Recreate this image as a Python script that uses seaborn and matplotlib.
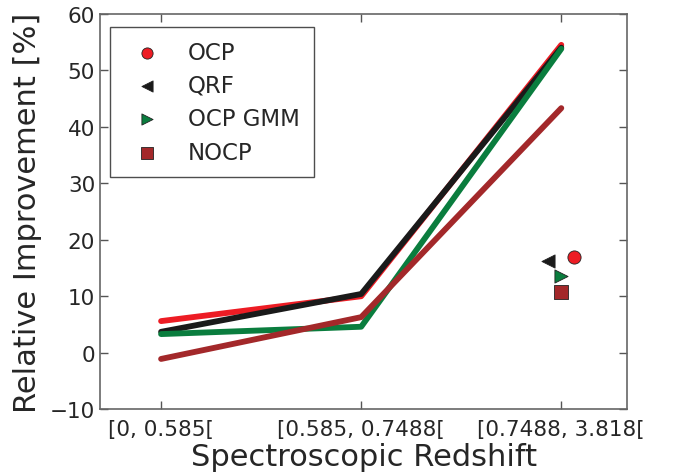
import numpy as np
import pandas as pd
import matplotlib
matplotlib.use('Agg')
import matplotlib.pyplot as plt
import seaborn as sns

### data
bins = ['[0, 0.585[', '[0.585, 0.7488[', '[0.7488, 3.818[']
methods = ['OCP', 'QRF', 'OCP GMM', 'NOCP']
ocp = [5.6, 10.0, 54.5]
qrf = [3.7, 10.4, 54.0]
ocp_gmm = [3.3, 4.6, 53.8]
nocp = [-1.1, 6.3, 43.3]
# overall improvement (points near the last bin)
overall = [17.0, 16.2, 13.6, 10.7]
overall_offset = [0.065, -0.065, 0.0, 0.0]

colors = {'OCP': '#ed1c24', 'QRF': '#1a1a1a', 'OCP GMM': '#0a7d3e', 'NOCP': '#a3282a'}
markers = {'OCP': 'o', 'QRF': '<', 'OCP GMM': '>', 'NOCP': 's'}

df = pd.DataFrame({
    'bin': np.tile(np.arange(len(bins)), len(methods)),
    'value': ocp + qrf + ocp_gmm + nocp,
    'method': np.repeat(methods, len(bins)),
})
df_all = pd.DataFrame({'method': methods, 'value': overall,
                       'x': [len(bins) - 1 + o for o in overall_offset]})

### plot
sns.set_style('white')
plt.rcParams['font.family'] = ['DejaVu Sans']
plt.rcParams['text.color'] = '#262626'
plt.rcParams['axes.labelcolor'] = '#262626'

fig = plt.figure(figsize=(6.76, 4.77), dpi=100)
ax = fig.add_axes([0.148, 0.140, 0.780, 0.829])

sns.lineplot(data=df, x='bin', y='value', hue='method', hue_order=methods,
             palette=colors, linewidth=4.2, legend=False, ax=ax)

for m in methods:
    d = df_all[df_all['method'] == m]
    sns.scatterplot(data=d, x='x', y='value', color=colors[m], marker=markers[m],
                    s=90, edgecolor='#222222', linewidth=0.6, label=m, ax=ax, zorder=5)

ax.set_xlim(-0.305, 2.33)
ax.set_ylim(-10, 60)
ax.set_xticks(range(len(bins)))
ax.set_xticklabels(bins)
ax.set_yticks(np.arange(-10, 61, 10))
ax.tick_params(direction='in', length=6, width=1, color='#555555', labelsize=15.5,
               top=True, right=True, bottom=True, left=True, labelcolor='#262626')
ax.tick_params(axis='x', pad=7)
for s in ax.spines.values():
    s.set_color('#666666')
    s.set_linewidth(1.2)
ax.set_xlabel('Spectroscopic Redshift', fontsize=22, labelpad=2)
ax.set_ylabel('Relative Improvement [%]', fontsize=22, labelpad=6)

leg = ax.legend(loc='upper left', fontsize=16.5, frameon=True, fancybox=False,
                borderpad=0.6, labelspacing=0.45, handletextpad=0.8,
                markerscale=0.85, bbox_to_anchor=(0.019, 0.967), borderaxespad=0)
leg.get_frame().set_edgecolor('#222222')
leg.get_frame().set_linewidth(1.0)

fig.savefig('out.png', dpi=100)
